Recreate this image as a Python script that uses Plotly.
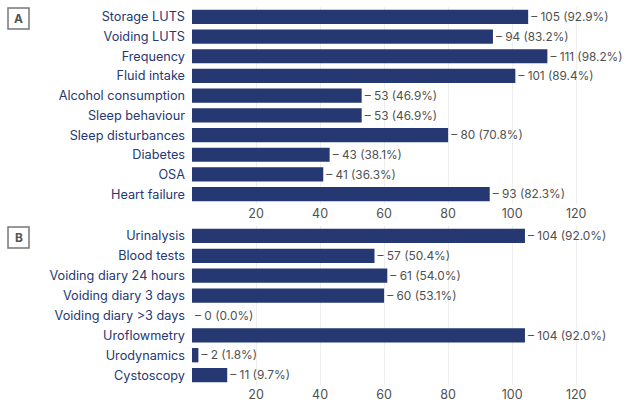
import plotly.graph_objects as go
from plotly.subplots import make_subplots

cats_a = ["Storage LUTS", "Voiding LUTS", "Frequency", "Fluid intake", "Alcohol consumption",
          "Sleep behaviour", "Sleep disturbances", "Diabetes", "OSA", "Heart failure"]
vals_a = [105, 94, 111, 101, 53, 53, 80, 43, 41, 93]
pct_a = ["92.9%", "83.2%", "98.2%", "89.4%", "46.9%", "46.9%", "70.8%", "38.1%", "36.3%", "82.3%"]

cats_b = ["Urinalysis", "Blood tests", "Voiding diary 24 hours", "Voiding diary 3 days",
          "Voiding diary >3 days", "Uroflowmetry", "Urodynamics", "Cystoscopy"]
vals_b = [104, 57, 61, 60, 0, 104, 2, 11]
pct_b = ["92.0%", "50.4%", "54.0%", "53.1%", "0.0%", "92.0%", "1.8%", "9.7%"]

tick_vals = [20, 40, 60, 80, 100, 120]

NAVY = "#253872"
FONT = "Inter"

fig = make_subplots(rows=2, cols=1, vertical_spacing=0.05)

H = 406
mt, mb = 7, 21
ph = H - mt - mb
a_bottom = (H - mb - 204) / ph
b_top = (H - mb - 226) / ph

for row, cats, vals, pcts in [(1, cats_a, vals_a, pct_a), (2, cats_b, vals_b, pct_b)]:
    fig.add_trace(go.Bar(
        y=cats, x=vals, orientation="h",
        marker=dict(color=NAVY, line=dict(width=0)),
        text=[f"\u2013 {v} ({p})" for v, p in zip(vals, pcts)],
        textposition="outside", cliponaxis=False,
        textfont=dict(family=FONT, size=12.5, color="#505050"),
        width=0.72, showlegend=False, hoverinfo="skip",
    ), row=row, col=1)

for row in (1, 2):
    fig.update_xaxes(range=[0, 134], tickvals=tick_vals, showgrid=True, gridcolor="#eeeeee",
                     zeroline=False, showline=False, ticks="", automargin=False,
                     tickfont=dict(family=FONT, size=12.5, color="#505050"), row=row, col=1)
    fig.update_yaxes(autorange="reversed", showgrid=False, zeroline=False, showline=False,
                     ticks="", ticklabelstandoff=6, automargin=False,
                     tickfont=dict(family=FONT, size=12.7, color=NAVY), row=row, col=1)

fig.update_layout(
    yaxis=dict(domain=[a_bottom, 1.0]),
    yaxis2=dict(domain=[0, b_top]),
    width=636, height=406,
    margin=dict(l=192, r=15, t=mt, b=mb, autoexpand=False),
    plot_bgcolor="white", paper_bgcolor="white",
    bargap=0.28,
    font=dict(family=FONT),
)

for letter, ytop in [("A", 8), ("B", 227)]:
    fig.add_shape(type="rect", xref="paper", yref="paper",
                  x0=-184 / 429, x1=-163 / 429,
                  y0=(H - mb - (ytop + 21)) / ph, y1=(H - mb - ytop) / ph,
                  line=dict(color="#777777", width=1.5), fillcolor="white")
    fig.add_annotation(text=f"<b>{letter}</b>", xref="paper", yref="paper",
                       x=-173.5 / 429, y=(H - mb - (ytop + 10.5)) / ph,
                       showarrow=False, xanchor="center", yanchor="middle",
                       font=dict(family=FONT, size=12, color="#555555"))

fig.write_html("out.html", config={"displayModeBar": False},
               post_script="document.body.style.margin='0';document.body.style.overflow='hidden';")
